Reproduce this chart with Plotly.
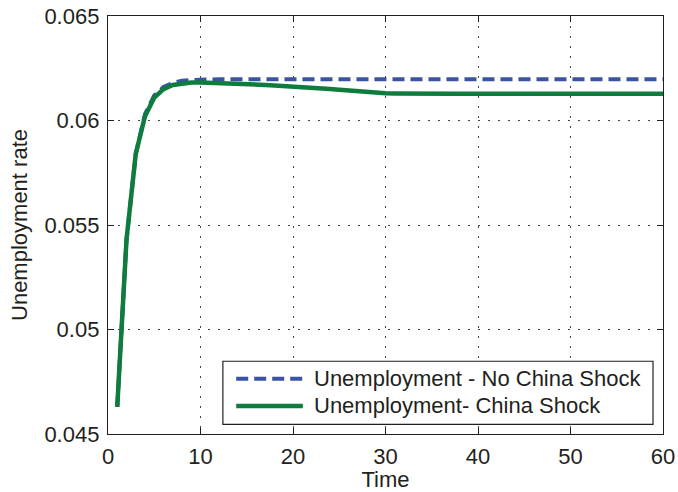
import plotly.graph_objects as go

time = list(range(1, 61))

unemp_no_shock = [0.0463, 0.0543, 0.0584, 0.0603, 0.0612, 0.0616, 0.0618, 0.06190, 0.06194, 0.06196] + [0.06197] * 50

unemp_shock = [0.0463, 0.0543, 0.0584, 0.0602, 0.0611, 0.0615, 0.0617, 0.06178, 0.06182, 0.06182,
               0.06181, 0.06180, 0.06178, 0.06176, 0.06174, 0.06172, 0.06170, 0.06168, 0.06166, 0.06164,
               0.06161, 0.06158, 0.06155, 0.06151, 0.06147, 0.06143, 0.06139, 0.06135, 0.06132, 0.06130,
               0.06129, 0.06128, 0.06128, 0.06128, 0.06128, 0.06128, 0.06128, 0.06128, 0.06128, 0.06128,
               0.06128, 0.06128, 0.06128, 0.06128, 0.06128, 0.06128, 0.06128, 0.06128, 0.06128, 0.06128,
               0.06128, 0.06128, 0.06128, 0.06128, 0.06128, 0.06128, 0.06128, 0.06128, 0.06128, 0.06128]

series_names = ["Unemployment - No China Shock", "Unemployment- China Shock"]
x_ticks = [0, 10, 20, 30, 40, 50, 60]
y_ticks = [0.045, 0.05, 0.055, 0.06, 0.065]
y_tick_labels = ["0.045", "0.05", "0.055", "0.06", "0.065"]

BLUE = "#3A53A4"
GREEN = "#0E7C3D"
TXT = "#231F20"
FONT = "Liberation Sans, Arial, sans-serif"

fig = go.Figure()
fig.add_trace(go.Scatter(x=time, y=unemp_no_shock, mode="lines", name=series_names[0],
                         line=dict(color=BLUE, width=4, dash="12px,6px"), showlegend=False))
fig.add_trace(go.Scatter(x=time, y=unemp_shock, mode="lines", name=series_names[1],
                         line=dict(color=GREEN, width=4.5), showlegend=False))

# custom legend (box, samples, labels) in paper coordinates
fig.add_shape(type="rect", xref="paper", yref="paper", x0=0.207, x1=0.982, y0=0.023, y1=0.174,
              line=dict(color=TXT, width=1.2), fillcolor="white", layer="above")
fig.add_shape(type="line", xref="paper", yref="paper", x0=0.231, x1=0.351, y0=0.132, y1=0.132,
              line=dict(color=BLUE, width=4, dash="12px,6px"), layer="above")
fig.add_shape(type="line", xref="paper", yref="paper", x0=0.231, x1=0.351, y0=0.067, y1=0.067,
              line=dict(color=GREEN, width=4.5), layer="above")
for name, yy in zip(series_names, [0.132, 0.067]):
    fig.add_annotation(text=name, xref="paper", yref="paper", x=0.368, y=yy, xanchor="left",
                       yanchor="middle", showarrow=False, font=dict(family=FONT, size=22, color=TXT))

axis_common = dict(showline=True, linecolor=TXT, linewidth=1.3, mirror="ticks", ticks="inside",
                   ticklen=6, tickcolor=TXT, showgrid=True, gridcolor="#444444", griddash="2px,8px",
                   gridwidth=1, zeroline=False, automargin=False, ticklabeloverflow="allow",
                   tickfont=dict(family=FONT, size=22, color=TXT))

fig.update_xaxes(range=[0, 60], tickvals=x_ticks, ticklabelstandoff=2,
                 title=dict(text="Time", standoff=8, font=dict(family=FONT, size=22, color=TXT)),
                 **axis_common)
fig.update_yaxes(range=[0.045, 0.065], tickvals=y_ticks, ticktext=y_tick_labels, ticklabelstandoff=3,
                 title=dict(text="Unemployment rate", standoff=10, font=dict(family=FONT, size=22, color=TXT)),
                 **axis_common)

fig.update_layout(width=678, height=492, margin=dict(l=108, r=15, t=16, b=58),
                  paper_bgcolor="white", plot_bgcolor="white", font=dict(family=FONT, color=TXT))

# remove the default 8px page margin so the figure fills the window exactly
fig.write_html("out.html", config={"displayModeBar": False},
               post_script="document.body.style.margin='0';")
